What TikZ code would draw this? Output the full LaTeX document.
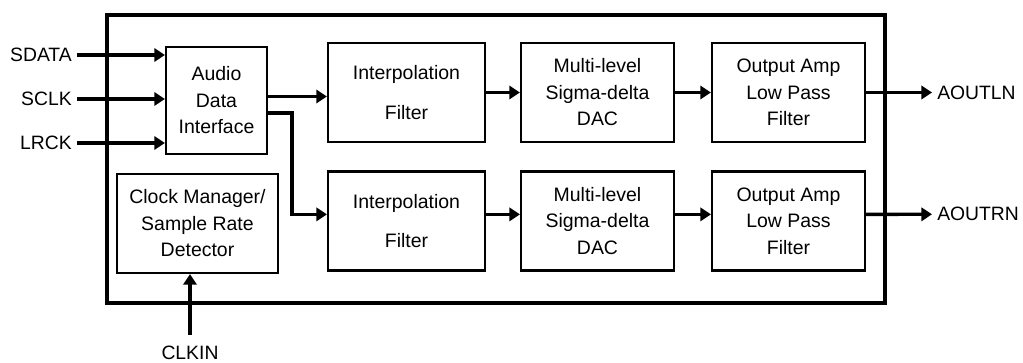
\documentclass[tikz,border=0pt]{standalone}
\usepackage{fontspec}
\setmainfont{Liberation Sans}
\usetikzlibrary{positioning,arrows.meta}

\tikzset{
	blk/.style={draw, line width=1.6pt, align=center, inner sep=0pt, minimum height=74.25pt, font=\fontsize{14.6}{19.9}\selectfont},
	lbl/.style={inner sep=3.75pt, font=\fontsize{14.5}{17}\selectfont},
	sig/.style={-{Triangle[length=8pt,width=10pt]}, line width=2.5pt},
}

\begin{document}
\begin{tikzpicture}[x=0.75pt, y=-0.75pt, node distance=143.25pt]
		\useasboundingbox (0,0) rectangle (1023,363);
		\draw[line width=2.5pt] (107,15) rectangle (885,303);

		\node[blk, minimum width=75.75pt, minimum height=80.25pt] (adi) at (216.5,100.5) {Audio\\Data\\Interface};
		\node[blk, minimum width=120.75pt] (clk) at (197.5,223.5) {Clock Manager/\\Sample Rate\\Detector};

		\node[blk, minimum width=117.75pt] (if1) at (406.5,92.5) {Interpolation\\[10pt]Filter};
		\node[blk, minimum width=114.75pt] (dac1) [right of=if1] {Multi-level\\Sigma-delta\\DAC};
		\node[blk, minimum width=114.75pt] (oa1) [right of=dac1] {Output Amp\\Low Pass\\Filter};

		\node[blk, minimum width=117.75pt] (if2) [node distance=96.4pt, below of=if1] {Interpolation\\[10pt]Filter};
		\node[blk, minimum width=114.75pt] (dac2) [right of=if2] {Multi-level\\Sigma-delta\\DAC};
		\node[blk, minimum width=114.75pt] (oa2) [right of=dac2] {Output Amp\\Low Pass\\Filter};

		\node[lbl, anchor=east] (sdata) at (77,55) {SDATA};
		\node[lbl, anchor=east] (sclk) at (77,99) {SCLK};
		\node[lbl, anchor=east] (lrck) at (77,143) {LRCK};
		\node[lbl, anchor=west] (aoutl) at (932,92.5) {AOUTLN};
		\node[lbl, anchor=west] (aoutr) at (932,214.3) {AOUTRN};
		\node[lbl, inner sep=1pt] (clkin) at (190,353) {CLKIN};
		\coordinate (clkpin) at (190,335);
		\coordinate (tap) at (292,113);

		\draw[sig] (sdata.east) -- (sdata.east -| adi.west);
		\draw[sig] (sclk.east) -- (sclk.east -| adi.west);
		\draw[sig] (lrck.east) -- (lrck.east -| adi.west);

		\draw[sig] ([yshift=-3pt]if1.west -| adi.east) -- ([yshift=-3pt]if1.west);
		\draw[sig] (tap -| adi.east) -| ([yshift=5pt]if2.west -| tap) -- ([yshift=5pt]if2.west);

		\draw[sig] (if1) -- (dac1);
		\draw[sig] (dac1) -- (oa1);
		\draw[sig] (oa1) -- (aoutl);

		\draw[sig] ([yshift=5pt]if2.east) -- ([yshift=5pt]dac2.west);
		\draw[sig] ([yshift=5pt]dac2.east) -- ([yshift=5pt]oa2.west);
		\draw[sig] ([yshift=5pt]oa2.east) -- (aoutr.west);

		\draw[sig] (clkpin) -- (clkpin |- clk.south);
	\end{tikzpicture}
\end{document}
